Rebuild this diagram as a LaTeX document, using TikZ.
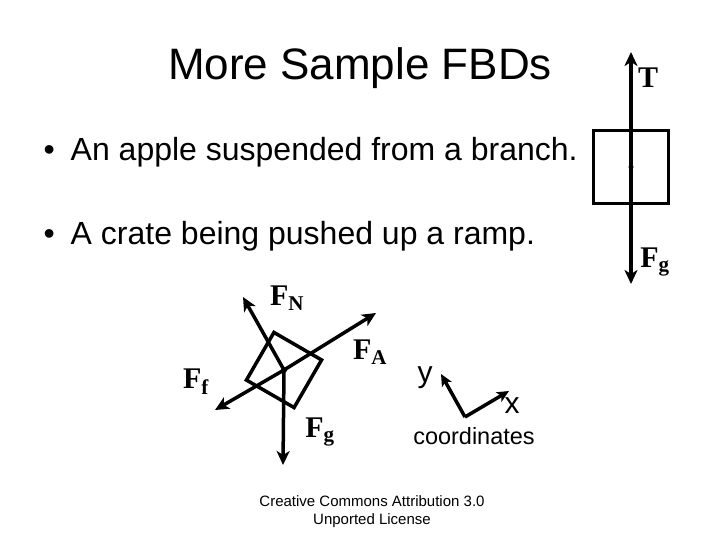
\documentclass[tikz,border=0pt]{standalone}
\usepackage{fontspec}
\setmainfont{Liberation Serif}
\setsansfont{Liberation Sans}
\usetikzlibrary{arrows.meta}
\begin{document}
\begin{tikzpicture}[x=1pt,y=-1pt,
  force/.style={line width=3.5pt,-{Stealth[length=14pt,width=13pt,inset=4pt]}},
  body/.style={draw,line width=3.5pt},
  lab/.style={font=\bfseries\fontsize{30}{32}\selectfont},
  txt/.style={font=\sffamily\fontsize{32}{36}\selectfont,anchor=west}]
\useasboundingbox (0,0) rectangle (720,540);
\node[font=\sffamily\fontsize{44}{48}\selectfont] (title) at (360,68) {More Sample FBDs};
\node[txt] (b1) at (40,152) {•\hspace{0.5em}An apple suspended from a branch.};
\node[txt] (b2) at (40,236) {•\hspace{0.5em}A crate being pushed up a ramp.};
% apple
\node[body,minimum width=75pt,minimum height=73pt] (apple) at (631,167) {};
\coordinate (ac) at (631,167);
\coordinate (at) at (631,52);
\coordinate (ab) at (631,284);
\draw[force] (ac) -- (at);
\draw[force] (ac) -- (ab);
\fill (ac) circle (2.5pt);
\node[lab] (T) at (648,78) {T};
\node[lab] (Fg1) at (655,262) {F\textsubscript{g}};
% crate
\coordinate (cc) at (284,370);
\node[body,minimum width=55pt,minimum height=55pt,rotate=-30] (crate) at (cc) {};
\draw[force] (cc) -- (243,297);
\draw[force] (cc) -- (376,313);
\draw[force] (cc) -- (215,410);
\draw[force] (cc) -- (283,465);
\fill (cc) circle (3pt);
\node[lab] (FN) at (287,298) {F\textsubscript{N}};
\node[lab] (FA) at (370,352) {F\textsubscript{A}};
\node[lab] (Ff) at (196,382) {F\textsubscript{f}};
\node[lab] (Fg2) at (320,432) {F\textsubscript{g}};
% axes
\coordinate (o) at (465,417);
\draw[force,-{Stealth[length=12pt,width=11pt,inset=3pt]}] (o) -- (441,374);
\draw[force,-{Stealth[length=12pt,width=11pt,inset=3pt]}] (o) -- (509,391);
\node[font=\sffamily\fontsize{30}{32}\selectfont] (ylab) at (425,378) {y};
\node[font=\sffamily\fontsize{30}{32}\selectfont] (xlab) at (512,406) {x};
\node[font=\sffamily\fontsize{23.5}{26}\selectfont] (coord) at (474,436) {coordinates};
\node[font=\sffamily\fontsize{15}{18}\selectfont,align=center] (cc3) at (372,512) {Creative Commons Attribution 3.0\\Unported License};
\end{tikzpicture}
\end{document}
